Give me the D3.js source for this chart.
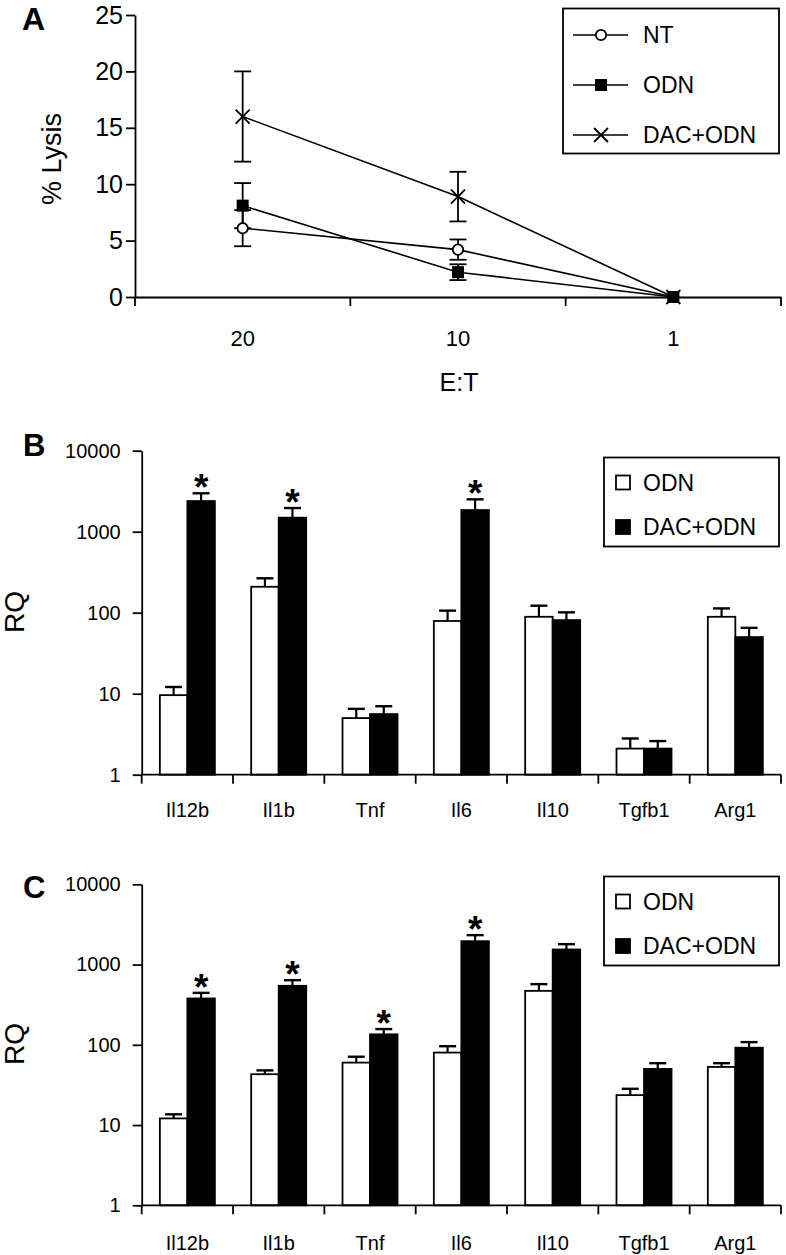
<!DOCTYPE html>
<html><head><meta charset="utf-8">
<script src="https://cdn.jsdelivr.net/npm/d3@7"></script>
<style>
html,body{margin:0;padding:0;background:#fff;}
svg{display:block;font-family:"Liberation Sans",Arial,Helvetica,sans-serif;}
</style></head>
<body>
<svg id="chart" width="786" height="1255"></svg>
<script>
// ---------- DATA ----------
const ratios = ["20", "10", "1"];
const lysisNT = [6.1, 4.2, 0];
const lysisNTSd = [1.6, 0.9, 0];
const lysisODN = [8.1, 2.2, 0];
const lysisODNSd = [2.0, 0.7, 0];
const lysisDAC = [16.0, 8.9, 0];
const lysisDACSd = [4.0, 2.2, 0];
const lysisTicks = [0, 5, 10, 15, 20, 25];
const lineSeries = ["NT", "ODN", "DAC+ODN"];

const genes = ["Il12b", "Il1b", "Tnf", "Il6", "Il10", "Tgfb1", "Arg1"];
const barSeries = ["ODN", "DAC+ODN"];
const rqTicks = [1, 10, 100, 1000, 10000];

const bODN = [9.6, 209, 5.0, 79, 89, 2.1, 89];
const bODNSd = [2.5, 57, 1.5, 27, 33, 0.7, 24];
const bDAC = [2390, 1490, 5.6, 1850, 81, 2.1, 50];
const bDACSd = [590, 470, 1.4, 660, 20, 0.5, 15];
const bSig = [true, true, false, true, false, false, false];

const cODN = [12.1, 43, 60, 80, 470, 23.6, 53];
const cODNSd = [1.5, 5, 11, 16, 100, 4.7, 6];
const cDAC = [378, 543, 135, 1955, 1540, 50, 92];
const cDACSd = [66, 96, 22, 370, 255, 9, 16];
const cSig = [true, true, true, true, false, false, false];

// ---------- DRAW ----------
const svg = d3.select("#chart");
const AX = 1.8;

// Panel A
(function(){
  const g = svg.append("g");
  const x = d3.scaleBand().domain(ratios).range([135, 781]);
  const y = d3.scaleLinear().domain([0, 25]).range([297, 15]);
  const cx = d => x(d) + x.bandwidth() / 2;

  const ya = g.append("g").attr("transform", "translate(135,0)")
    .call(d3.axisLeft(y).tickValues(lysisTicks).tickSize(9).tickSizeOuter(0).tickPadding(3));
  ya.select(".domain").attr("stroke-width", AX);
  ya.selectAll(".tick line").attr("stroke-width", AX);
  ya.selectAll("text").attr("font-size", 25).attr("font-family", "Liberation Sans");

  const xa = g.append("g").attr("transform", "translate(0,297)")
    .call(d3.axisBottom(x).tickSize(0).tickPadding(33).tickSizeOuter(0));
  xa.select(".domain").attr("stroke-width", AX);
  xa.selectAll("text").attr("font-size", 22).attr("font-family", "Liberation Sans");
  const bounds = ratios.map(d => x(d)).concat([x.range()[1]]);
  g.selectAll(".xb").data(bounds).enter().append("line")
    .attr("x1", d => d).attr("x2", d => d).attr("y1", 297).attr("y2", 306)
    .attr("stroke", "#000").attr("stroke-width", AX);

  g.append("text").attr("x", 459).attr("y", 391).attr("text-anchor", "middle")
    .attr("font-size", 25).text("E:T");
  g.append("text").attr("transform", "translate(61,159) rotate(-90)")
    .attr("text-anchor", "middle").attr("font-size", 27).text("% Lysis");
  g.append("text").attr("x", 22).attr("y", 30).attr("font-size", 32)
    .attr("font-weight", "bold").text("A");

  const series = [
    {name: "NT", v: lysisNT, sd: lysisNTSd, m: "circle"},
    {name: "ODN", v: lysisODN, sd: lysisODNSd, m: "square"},
    {name: "DAC+ODN", v: lysisDAC, sd: lysisDACSd, m: "x"}
  ];
  const line = d3.line().x((d, i) => cx(ratios[i])).y(d => y(d));
  series.forEach(s => {
    s.v.forEach((v, i) => {
      if (s.sd[i] <= 0) return;
      const px = cx(ratios[i]);
      const eg = g.append("g").attr("stroke", "#000").attr("stroke-width", AX);
      eg.append("line").attr("x1", px).attr("x2", px).attr("y1", y(v - s.sd[i])).attr("y2", y(v + s.sd[i]));
      [v - s.sd[i], v + s.sd[i]].forEach(e => eg.append("line")
        .attr("x1", px - 8.5).attr("x2", px + 8.5).attr("y1", y(e)).attr("y2", y(e)));
    });
  });
  series.forEach(s => {
    g.append("path").datum(s.v).attr("d", line).attr("fill", "none")
      .attr("stroke", "#000").attr("stroke-width", 1.6);
  });
  function marker(sel, m, px, py) {
    if (m === "circle") sel.append("circle").attr("cx", px).attr("cy", py).attr("r", 5.2)
      .attr("fill", "#fff").attr("stroke", "#000").attr("stroke-width", 1.8);
    else if (m === "square") sel.append("rect").attr("x", px - 6).attr("y", py - 6)
      .attr("width", 12).attr("height", 12).attr("fill", "#000");
    else sel.append("path").attr("d", `M${px-7},${py-7}L${px+7},${py+7}M${px-7},${py+7}L${px+7},${py-7}`)
      .attr("stroke", "#000").attr("stroke-width", 1.8).attr("fill", "none");
  }
  series.forEach(s => s.v.forEach((v, i) => marker(g, s.m, cx(ratios[i]), y(v))));

  const lg = g.append("g");
  lg.append("rect").attr("x", 563).attr("y", 8.5).attr("width", 216).attr("height", 145)
    .attr("fill", "#fff").attr("stroke", "#000").attr("stroke-width", AX);
  series.forEach((s, i) => {
    const ly = 35 + i * 50;
    lg.append("line").attr("x1", 573).attr("x2", 628).attr("y1", ly).attr("y2", ly)
      .attr("stroke", "#000").attr("stroke-width", 1.6);
    marker(lg, s.m, 601, ly);
    lg.append("text").attr("x", 643).attr("y", ly + 8).attr("font-size", 23).text(lineSeries[i]);
  });
})();

// Bar panels
function barPanel(opts) {
  const g = svg.append("g");
  const x = d3.scaleBand().domain(genes).range([141.7, 781]);
  const xs = d3.scaleBand().domain(barSeries).range([0, x.bandwidth()]).paddingOuter(0.66);
  const y = d3.scaleLog().domain([1, 10000]).range([opts.y0, opts.y1]);

  const ya = g.append("g").attr("transform", "translate(141.7,0)")
    .call(d3.axisLeft(y).tickValues(rqTicks).tickFormat(d3.format("d")).tickSize(9).tickSizeOuter(0).tickPadding(12));
  ya.select(".domain").attr("stroke-width", AX);
  ya.selectAll(".tick line").attr("stroke-width", AX);
  ya.selectAll("text").attr("font-size", 20).attr("font-family", "Liberation Sans");

  const data = genes.map((gname, i) => ({gene: gname, i}));
  const vals = [opts.odn, opts.dac], sds = [opts.odnSd, opts.dacSd];
  barSeries.forEach((s, k) => {
    g.selectAll(".bar" + k).data(data).enter().append("rect")
      .attr("x", d => x(d.gene) + xs(s))
      .attr("width", xs.bandwidth())
      .attr("y", d => y(vals[k][d.i]))
      .attr("height", d => y(1) - y(vals[k][d.i]))
      .attr("fill", k === 0 ? "#fff" : "#000")
      .attr("stroke", "#000").attr("stroke-width", AX);
    data.forEach(d => {
      const px = x(d.gene) + xs(s) + xs.bandwidth() / 2;
      const top = vals[k][d.i] + sds[k][d.i];
      g.append("line").attr("x1", px).attr("x2", px).attr("y1", y(vals[k][d.i])).attr("y2", y(top))
        .attr("stroke", "#000").attr("stroke-width", 2.2);
      g.append("line").attr("x1", px - 8.5).attr("x2", px + 8.5).attr("y1", y(top)).attr("y2", y(top))
        .attr("stroke", "#000").attr("stroke-width", 2.4);
    });
  });
  data.filter(d => opts.sig[d.i]).forEach(d => {
    const px = x(d.gene) + xs("DAC+ODN") + xs.bandwidth() / 2;
    const top = opts.dac[d.i] + opts.dacSd[d.i];
    g.append("text").attr("x", px).attr("y", y(top) + 7).attr("text-anchor", "middle")
      .attr("font-size", 37).attr("font-weight", "bold").text("*");
  });

  g.append("line").attr("x1", 141.7).attr("x2", 781).attr("y1", opts.y0).attr("y2", opts.y0)
    .attr("stroke", "#000").attr("stroke-width", AX);
  const bounds = genes.map(d => x(d)).concat([x.range()[1]]);
  g.selectAll(".xb").data(bounds).enter().append("line")
    .attr("x1", d => d).attr("x2", d => d).attr("y1", opts.y0).attr("y2", opts.y0 + 9)
    .attr("stroke", "#000").attr("stroke-width", AX);
  g.selectAll(".xl").data(genes).enter().append("text")
    .attr("x", d => x(d) + x.bandwidth() / 2).attr("y", opts.y0 + opts.labOff)
    .attr("text-anchor", "middle").attr("font-size", 20).text(d => d);

  g.append("text").attr("transform", `translate(24,${opts.rqY}) rotate(-90)`)
    .attr("text-anchor", "middle").attr("font-size", 28).text("RQ");
  g.append("text").attr("x", 23).attr("y", opts.letterY).attr("font-size", 31)
    .attr("font-weight", "bold").text(opts.letter);

  const lg = g.append("g");
  lg.append("rect").attr("x", 604).attr("y", opts.legY).attr("width", 175).attr("height", 89)
    .attr("fill", "#fff").attr("stroke", "#000").attr("stroke-width", AX);
  barSeries.forEach((s, k) => {
    const sy = opts.legY + 18 + k * 44.5;
    lg.append("rect").attr("x", 616).attr("y", sy).attr("width", 14).attr("height", 14)
      .attr("fill", k === 0 ? "#fff" : "#000").attr("stroke", "#000").attr("stroke-width", AX);
    lg.append("text").attr("x", 643).attr("y", sy + 15).attr("font-size", 23).text(s);
  });
}

barPanel({odn: bODN, odnSd: bODNSd, dac: bDAC, dacSd: bDACSd, sig: bSig,
  y0: 774.7, y1: 450.7, labOff: 42, rqY: 612, letter: "B", letterY: 456, legY: 457.5});
barPanel({odn: cODN, odnSd: cODNSd, dac: cDAC, dacSd: cDACSd, sig: cSig,
  y0: 1205.3, y1: 884.3, labOff: 45, rqY: 1044, letter: "C", letterY: 898, legY: 876.5});
</script>
</body></html>
